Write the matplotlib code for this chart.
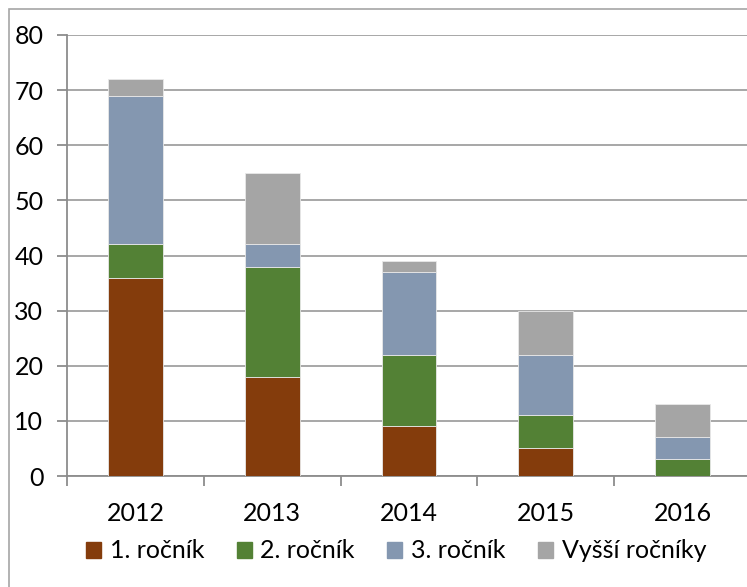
import matplotlib.pyplot as plt
import matplotlib.patches as mpatches
import numpy as np

plt.rcParams['font.family'] = ['Lato', 'DejaVu Sans']

years = ['2012', '2013', '2014', '2015', '2016']
series = ['1. ročník', '2. ročník', '3. ročník', 'Vyšší ročníky']
first = [36, 18, 9, 5, 0]
second = [6, 20, 13, 6, 3]
third = [27, 4, 15, 11, 4]
higher = [3, 13, 2, 8, 6]
colors = ['#843C0C', '#538135', '#8497B0', '#A5A5A5']

W, H = 747, 587
fig = plt.figure(figsize=(W / 100, H / 100), dpi=100)
ax = fig.add_axes([67 / W, (H - 476) / H, (751 - 67) / W, 441 / H])

# outer frame of the chart area
fig.patches.append(mpatches.Rectangle((8.5 / W, -0.1), 1.2, (H - 9) / H + 0.1,
                                      transform=fig.transFigure, fill=False,
                                      edgecolor='#a6a6a6', linewidth=1.2))

x = np.arange(len(years))
bottom = np.zeros(len(years))
for vals, col, name in zip([first, second, third, higher], colors, series):
    ax.bar(x, vals, 0.4, bottom=bottom, color=col, label=name,
           edgecolor='#e8e8e8', linewidth=0.6, zorder=3)
    bottom += np.array(vals)

ax.set_xlim(-0.5, len(years) - 0.5)
ax.set_ylim(0, 80)
ax.set_yticks(range(0, 81, 10))
ax.yaxis.grid(True, color='#a0a0a0', linewidth=1.3, zorder=0)
ax.set_axisbelow(True)

ax.set_xticks(x)
ax.set_xticklabels(years)
ax.set_xticks(np.arange(-0.5, len(years)), minor=True)
ax.tick_params(axis='x', which='major', length=0, labelsize=18, pad=19)
ax.tick_params(axis='x', which='minor', length=7, width=1.3, color='#8c8c8c', direction='out')
ax.tick_params(axis='y', length=7, width=1.3, color='#8c8c8c', labelsize=18, pad=10)

for s in ['top', 'right']:
    ax.spines[s].set_visible(False)
for s in ['left', 'bottom']:
    ax.spines[s].set_color('#8c8c8c')
    ax.spines[s].set_linewidth(1.3)

handles = [mpatches.Patch(color=c, label=n) for c, n in zip(colors, series)]
fig.legend(handles=handles, loc='center', bbox_to_anchor=(396 / W, 1 - 551 / H),
           ncol=4, frameon=False, fontsize=18, handlelength=0.6, handleheight=0.6,
           handletextpad=0.35, columnspacing=1.3)

fig.savefig('out.png', dpi=100)
